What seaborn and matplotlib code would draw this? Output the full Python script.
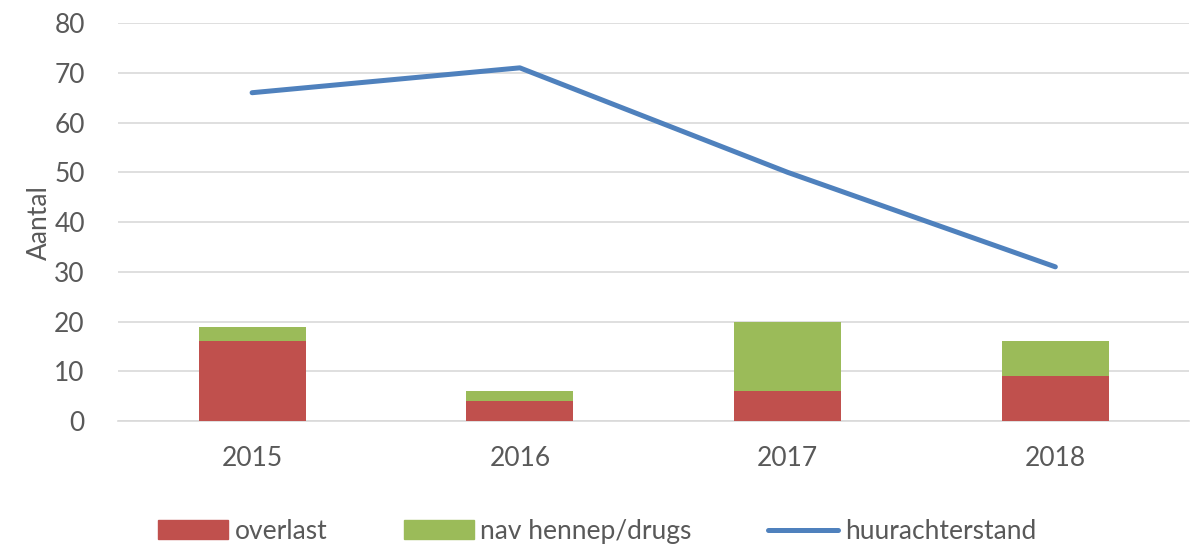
import pandas as pd
import matplotlib.pyplot as plt
import seaborn as sns
from matplotlib.patches import Patch
from matplotlib.lines import Line2D

years = ['2015', '2016', '2017', '2018']
overlast = [16, 4, 6, 9]
hennep = [3, 2, 14, 7]
huurachterstand = [66, 71, 50, 31]

df = pd.DataFrame({'jaar': years, 'overlast': overlast, 'hennep': hennep,
                   'huur': huurachterstand})
df['totaal'] = df['overlast'] + df['hennep']

sns.set_style('white')
plt.rcParams['font.family'] = ['Lato', 'DejaVu Sans']

red, green, blue = '#C0504D', '#9BBB59', '#4F81BD'
grey = '#595959'

fig = plt.figure(figsize=(11.94, 5.49), dpi=100)
ax = fig.add_axes([0.099, 0.233, 0.897, 0.725])

sns.barplot(df, x='jaar', y='totaal', color=green, width=0.4, saturation=1,
            linewidth=0, ax=ax, zorder=2)
sns.barplot(df, x='jaar', y='overlast', color=red, width=0.4, saturation=1,
            linewidth=0, ax=ax, zorder=3)
sns.lineplot(df, x='jaar', y='huur', color=blue, linewidth=3.6, ax=ax, zorder=4)

ax.set_ylim(0, 80)
ax.set_yticks(range(0, 81, 10))
ax.set_xlim(-0.5, 3.5)
ax.grid(axis='y', color='#D9D9D9', linewidth=1.2, zorder=0)
ax.set_axisbelow(True)
for s in ['top', 'right', 'left']:
    ax.spines[s].set_visible(False)
ax.spines['bottom'].set_color('#D9D9D9')
ax.spines['bottom'].set_linewidth(1.2)
ax.tick_params(axis='both', length=0, labelsize=19, colors=grey)
ax.tick_params(axis='y', pad=24)
ax.tick_params(axis='x', pad=18)
ax.set_xlabel('')
ax.set_ylabel('Aantal', fontsize=19, color=grey, labelpad=2)

handles = [Patch(color=red), Patch(color=green), Line2D([], [], color=blue, linewidth=3.6)]
labels = ['overlast', 'nav hennep/drugs', 'huurachterstand']
fig.legend(handles, labels, loc='center', bbox_to_anchor=(0.5, 0.032), ncol=3, frameon=False,
           fontsize=19, labelcolor=grey, handlelength=2.65, handleheight=0.72,
           handletextpad=0.25, columnspacing=2.9)

fig.savefig('out.png', dpi=100)
